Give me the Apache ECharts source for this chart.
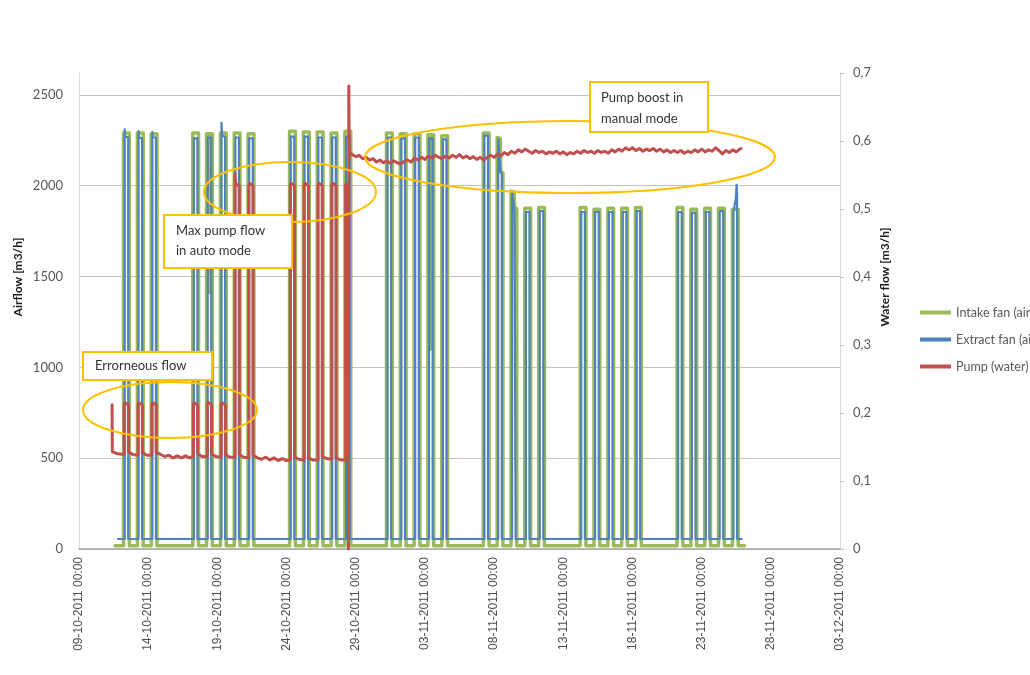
<!DOCTYPE html>
<html>
<head>
<meta charset="utf-8">
<title>Airflow and water flow</title>
<script src="https://cdn.jsdelivr.net/npm/echarts@6/dist/echarts.min.js"></script>
<style>
  html, body { margin: 0; padding: 0; background: #ffffff; }
  #chart { width: 1030px; height: 675px; }
</style>
</head>
<body>
<div id="chart"></div>
<script>
// Time is counted in days from 09-10-2011 00:00.
const dateTicks = [
  '09-10-2011 00:00', '14-10-2011 00:00', '19-10-2011 00:00', '24-10-2011 00:00',
  '29-10-2011 00:00', '03-11-2011 00:00', '08-11-2011 00:00', '13-11-2011 00:00',
  '18-11-2011 00:00', '23-11-2011 00:00', '28-11-2011 00:00', '03-12-2011 00:00'
];
const airTicks = [0, 500, 1000, 1500, 2000, 2500];
const waterTicks = [0, 0.1, 0.2, 0.3, 0.4, 0.5, 0.6, 0.7];

// Working days with the ventilation running (day index).
const workDays = [3, 4, 5, 8, 9, 10, 11, 12, 15, 16, 17, 18, 19, 22, 23, 24, 25, 26,
                  29, 30, 31, 32, 33, 36, 37, 38, 39, 40, 43, 44, 45, 46, 47];

// Intake fan, m3/h (switched on/off as fraction of the day)
const intakeOnOff = [0.22, 0.64];
const intakeIdle = 18;
const intakeSpan = [2.6, 48.1];
const intakeTop = [2290, 2290, 2285, 2290, 2285, 2290, 2290, 2285, 2300, 2295, 2295, 2290, 2300,
                   2290, 2285, 2285, 2280, 2275, 2290, 2265, 1965, 1875, 1880,
                   1880, 1870, 1875, 1875, 1880, 1880, 1870, 1875, 1875, 1870];
const intakeShapes = {
  9:  [[0.22, 2285], [0.46, 2285], [0.47, 1410], [0.48, 2285], [0.64, 2285]],
  25: [[0.22, 2280], [0.39, 2280], [0.40, 1100], [0.41, 2280], [0.64, 2280]],
  30: [[0.22, 2265], [0.45, 2260], [0.48, 2080], [0.64, 2070]],
  31: [[0.22, 1970], [0.45, 1965], [0.48, 1880], [0.64, 1875]]
};

// Extract fan, m3/h
const extractOnOff = [0.30, 0.56];
const extractIdle = 55;
const extractSpan = [2.82, 47.9];
const extractTop = [2265, 2260, 2265, 2260, 2265, 2270, 2265, 2260, 2270, 2270, 2265, 2265, 2270,
                    2265, 2260, 2265, 2260, 2255, 2275, 2255, 1960, 1855, 1860,
                    1855, 1855, 1855, 1855, 1860, 1855, 1850, 1855, 1860, 1855];
const extractShapes = {
  3:  [[0.30, 2310], [0.34, 2270], [0.56, 2265]],
  4:  [[0.30, 2300], [0.34, 2265], [0.56, 2260]],
  5:  [[0.30, 2295], [0.34, 2265], [0.56, 2265]],
  10: [[0.30, 2345], [0.34, 2275], [0.56, 2270]],
  30: [[0.30, 2255], [0.44, 2250], [0.47, 2075], [0.56, 2060]],
  31: [[0.30, 1960], [0.44, 1950], [0.47, 1865], [0.56, 1855]],
  47: [[0.30, 1855], [0.40, 1860], [0.47, 1930], [0.53, 2005], [0.56, 1960]]
};

// Pump, m3/h, in auto mode (up to the switch on 28-10)
const pumpAuto = [
  [2.39, 0.212], [2.41, 0.143], [2.8, 0.140], [3.27, 0.139],
  [3.27, 0.212], [3.32, 0.215], [3.58, 0.212], [3.58, 0.143], [3.9, 0.139], [4.27, 0.138],
  [4.27, 0.212], [4.32, 0.215], [4.58, 0.212], [4.58, 0.142], [4.9, 0.138], [5.27, 0.138],
  [5.27, 0.212], [5.32, 0.215], [5.58, 0.212], [5.58, 0.142], [5.9, 0.139], [6.2, 0.136],
  [6.5, 0.138], [6.8, 0.134], [7.1, 0.137], [7.4, 0.134], [7.7, 0.137], [8.0, 0.134], [8.27, 0.136],
  [8.27, 0.212], [8.32, 0.215], [8.58, 0.212], [8.58, 0.140], [8.9, 0.136], [9.27, 0.136],
  [9.27, 0.212], [9.32, 0.216], [9.58, 0.212], [9.58, 0.140], [9.9, 0.136], [10.27, 0.135],
  [10.27, 0.212], [10.32, 0.215], [10.58, 0.212], [10.58, 0.139], [10.9, 0.135], [11.27, 0.135],
  [11.27, 0.552], [11.32, 0.537], [11.58, 0.534], [11.58, 0.139], [11.9, 0.135], [12.27, 0.134],
  [12.27, 0.534], [12.32, 0.538], [12.58, 0.534], [12.58, 0.138], [12.9, 0.134], [13.2, 0.132],
  [13.5, 0.135], [13.8, 0.131], [14.1, 0.134], [14.4, 0.130], [14.7, 0.133], [15.0, 0.130], [15.27, 0.131],
  [15.27, 0.534], [15.32, 0.538], [15.58, 0.534], [15.58, 0.135], [15.9, 0.132], [16.27, 0.131],
  [16.27, 0.534], [16.32, 0.538], [16.58, 0.534], [16.58, 0.134], [16.9, 0.131], [17.27, 0.131],
  [17.27, 0.534], [17.32, 0.538], [17.58, 0.534], [17.58, 0.136], [17.9, 0.133], [18.27, 0.132],
  [18.27, 0.534], [18.32, 0.538], [18.58, 0.534], [18.58, 0.134], [18.9, 0.131], [19.27, 0.131],
  [19.27, 0.534], [19.32, 0.538], [19.46, 0.534], [19.47, 0.0], [19.50, 0.681], [19.53, 0.586], [19.62, 0.582]
];

// Pump in manual mode, logged every 6 hours from day 19.75
const pumpManualStart = 19.75;
const pumpManualStep = 0.25;
const pumpManual = [
  0.583, 0.577, 0.579, 0.574, 0.576, 0.572, 0.574, 0.569, 0.572, 0.568, 0.571, 0.567, 0.571, 0.568,
  0.566, 0.570, 0.572, 0.569, 0.575, 0.572, 0.576, 0.573, 0.578, 0.575, 0.579, 0.576, 0.574, 0.578,
  0.575, 0.579, 0.576, 0.580, 0.575, 0.578, 0.574, 0.577, 0.573, 0.576, 0.572, 0.576, 0.579, 0.576,
  0.581, 0.578, 0.583, 0.580, 0.585, 0.582, 0.587, 0.584, 0.588, 0.585, 0.582, 0.586, 0.583, 0.585,
  0.581, 0.584, 0.582, 0.585, 0.581, 0.584, 0.580, 0.583, 0.581, 0.585, 0.582, 0.586, 0.583, 0.585,
  0.582, 0.586, 0.583, 0.585, 0.582, 0.587, 0.584, 0.588, 0.585, 0.590, 0.587, 0.590, 0.586, 0.589,
  0.585, 0.588, 0.586, 0.589, 0.585, 0.588, 0.584, 0.587, 0.583, 0.586, 0.583, 0.586, 0.582, 0.585,
  0.583, 0.587, 0.584, 0.588, 0.584, 0.587, 0.585, 0.590, 0.586, 0.581, 0.586, 0.583, 0.587, 0.584,
  0.588
];
const pumpEnd = [47.85, 0.589];

// Square on/off trace for a fan: idle level, then each working day's profile.
function fanTrace(idle, span, onOff, tops, shapes) {
  const pts = [[span[0], idle]];
  workDays.forEach(function (d, i) {
    const shape = shapes[d] || [[onOff[0], tops[i]], [onOff[1], tops[i]]];
    pts.push([d + onOff[0], idle]);
    shape.forEach(function (p) { pts.push([d + p[0], p[1]]); });
    pts.push([d + onOff[1], idle]);
  });
  pts.push([span[1], idle]);
  return pts;
}

const intakeData = fanTrace(intakeIdle, intakeSpan, intakeOnOff, intakeTop, intakeShapes);
const extractData = fanTrace(extractIdle, extractSpan, extractOnOff, extractTop, extractShapes);
const pumpData = pumpAuto
  .concat(pumpManual.map(function (v, i) { return [pumpManualStart + i * pumpManualStep, v]; }))
  .concat([pumpEnd]);

const chart = echarts.init(document.getElementById('chart'), null, { renderer: 'canvas' });

const orange = '#FFC000';
const noteFont = { fontFamily: 'Lato', fontSize: 13, fill: '#333333' };

function noteBox(x, y, w, h, lines, tx, ty, lh) {
  const els = [{
    type: 'rect', z: 101,
    shape: { x: x, y: y, width: w, height: h },
    style: { fill: '#ffffff', stroke: orange, lineWidth: 2 }
  }];
  lines.forEach(function (t, i) {
    els.push({
      type: 'text', z: 102, x: tx, y: ty + i * lh,
      style: Object.assign({ text: t, align: 'left', verticalAlign: 'middle' }, noteFont)
    });
  });
  return els;
}

function ring(cx, cy, rx, ry) {
  return {
    type: 'ellipse', z: 100,
    shape: { cx: cx, cy: cy, rx: rx, ry: ry },
    style: { fill: 'none', stroke: orange, lineWidth: 2 }
  };
}

chart.setOption({
  backgroundColor: '#ffffff',
  animation: false,
  grid: { left: 79, right: 190, top: 73, bottom: 126, containLabel: false },
  legend: {
    orient: 'vertical',
    left: 915, top: 300,
    itemWidth: 31, itemHeight: 4, itemGap: 12,
    icon: 'rect',
    textStyle: { fontFamily: 'Lato', fontSize: 12.5, color: '#595959', lineHeight: 15 },
    data: ['Intake fan (air)', 'Extract fan (air)', 'Pump (water)']
  },
  xAxis: {
    type: 'value',
    min: 0, max: 55, interval: 5,
    axisLine: { show: true, onZero: false, lineStyle: { color: '#a6a6a6', width: 1.5 } },
    axisTick: { show: false },
    splitLine: { show: false },
    axisLabel: {
      rotate: 90, margin: 8,
      fontFamily: 'Liberation Sans', fontSize: 12, color: '#4d4d4d',
      formatter: function (v) { return dateTicks[Math.round(v / 5)]; }
    }
  },
  yAxis: [
    {
      type: 'value', position: 'left',
      min: 0, max: 2620, interval: 500,
      axisLine: { show: true, lineStyle: { color: '#d9d9d9' } },
      axisTick: { show: false },
      splitLine: { show: true, showMaxLine: false, lineStyle: { color: '#c4c4c4', width: 1 } },
      axisLabel: {
        showMaxLabel: false, margin: 16,
        fontFamily: 'Lato', fontSize: 13, color: '#595959',
        formatter: function (v) { return airTicks.indexOf(v) >= 0 ? String(v) : ''; }
      }
    },
    {
      type: 'value', position: 'right',
      min: 0, max: 0.7, interval: 0.1,
      axisLine: { show: true, lineStyle: { color: '#d9d9d9' } },
      axisTick: { show: true, length: 4, lineStyle: { color: '#bfbfbf' } },
      splitLine: { show: false },
      axisLabel: {
        margin: 13,
        fontFamily: 'Lato', fontSize: 13, color: '#595959',
        formatter: function (v) {
          const t = waterTicks.reduce(function (a, b) { return Math.abs(b - v) < Math.abs(a - v) ? b : a; });
          return t === 0 ? '0' : t.toFixed(1).replace('.', ',');
        }
      }
    }
  ],
  series: [
    {
      name: 'Intake fan (air)', type: 'line', yAxisIndex: 0,
      data: intakeData, showSymbol: false, symbol: 'none', z: 2,
      lineStyle: { color: '#9BBB59', width: 3.5, join: 'round', cap: 'round' },
      itemStyle: { color: '#9BBB59' }
    },
    {
      name: 'Extract fan (air)', type: 'line', yAxisIndex: 0,
      data: extractData, showSymbol: false, symbol: 'none', z: 3,
      lineStyle: { color: '#4F81BD', width: 2.2, join: 'round', cap: 'round' },
      itemStyle: { color: '#4F81BD' }
    },
    {
      name: 'Pump (water)', type: 'line', yAxisIndex: 1,
      data: pumpData, showSymbol: false, symbol: 'none', z: 4,
      lineStyle: { color: '#C0504D', width: 3, join: 'round', cap: 'round' },
      itemStyle: { color: '#C0504D' }
    }
  ],
  graphic: [
    {
      type: 'text', z: 110, x: 18, y: 277, rotation: Math.PI / 2,
      style: { text: 'Airflow [m3/h]', align: 'center', verticalAlign: 'middle',
               fontFamily: 'Lato', fontSize: 12, fontWeight: 'bold', fill: '#1a1a1a' }
    },
    {
      type: 'text', z: 110, x: 885, y: 277, rotation: Math.PI / 2,
      style: { text: 'Water flow [m3/h]', align: 'center', verticalAlign: 'middle',
               fontFamily: 'Lato', fontSize: 12, fontWeight: 'bold', fill: '#1a1a1a' }
    },
    ring(170, 410, 87, 28),
    ring(290, 192, 86, 30),
    ring(570, 157, 205, 36)
  ]
    .concat(noteBox(83, 352, 129, 28, ['Errorneous flow'], 95, 366, 20))
    .concat(noteBox(164, 215, 128, 53, ['Max pump flow', 'in auto mode'], 176, 231, 20))
    .concat(noteBox(590, 82, 118, 50, ['Pump boost in', 'manual mode'], 601, 98, 21))
});
</script>
</body>
</html>
